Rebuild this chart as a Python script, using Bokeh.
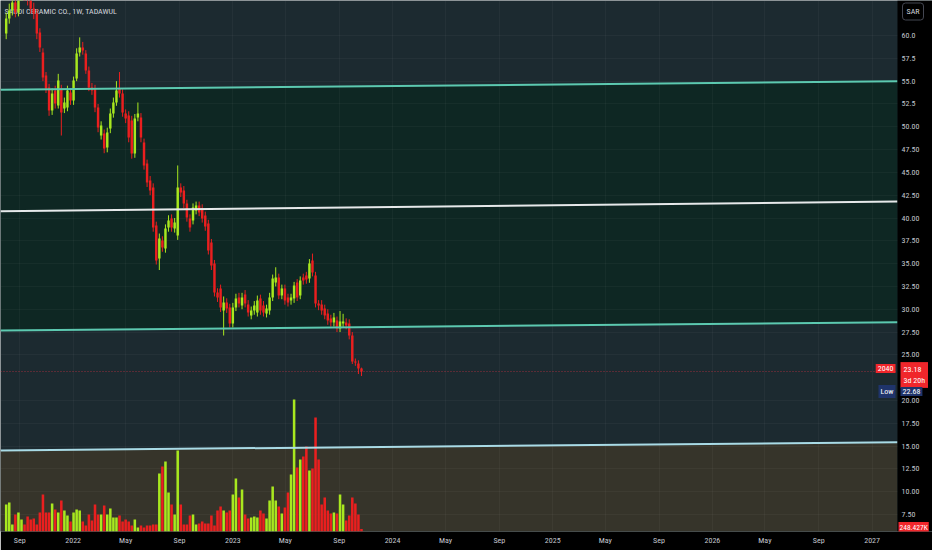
import pandas as pd
from bokeh.plotting import figure
from bokeh.models import ColumnDataSource, Range1d, FixedTicker, Label
from bokeh.embed import file_html
from bokeh.resources import INLINE

# ---------------- data (weekly candles, SAR) ----------------
LAST_WEEK = "2023-10-22"

opens = [60.22, 61.87, 62.74, 63.62, 62.52, 64.72, 65.48, 64.39, 63.84, 62.96,
         62.41, 60.33, 58.14, 55.62, 54.30, 51.78, 53.98, 52.33, 54.20, 52.00,
         52.11, 53.76, 52.88, 55.29, 58.14, 58.69, 58.03, 56.17, 54.30, 54.20,
         52.11, 49.04, 49.26, 47.73, 49.81, 51.45, 52.66, 54.20, 53.65, 51.45,
         51.24, 50.69, 47.07, 51.02, 51.02, 48.28, 45.98, 44.11, 43.34, 39.18,
         35.56, 37.54, 36.66, 38.96, 39.95, 38.85, 38.08, 43.34, 43.02, 41.59,
         39.95, 39.73, 40.82, 41.37, 41.04, 40.28, 39.40, 37.32, 35.02, 31.84,
         32.28, 29.86, 30.74, 30.19, 28.44, 30.19, 31.29, 30.41, 31.62, 30.52,
         29.32, 29.86, 29.64, 31.18, 30.41, 29.53, 29.86, 31.29, 32.93, 33.48,
         31.51, 32.28, 31.29, 30.96, 31.18, 32.93, 31.51, 33.48, 33.70, 33.37,
         35.34, 33.70, 30.63, 30.52, 30.08, 29.53, 28.99, 28.55, 28.77, 27.89,
         28.44, 28.55, 28.44, 27.12, 24.27, 24.05, 23.51]

closes = [61.87, 62.74, 63.62, 62.52, 64.72, 65.48, 64.39, 63.84, 62.96, 62.41,
          60.22, 58.69, 55.40, 54.20, 51.78, 53.65, 52.55, 55.07, 51.56, 52.66,
          53.98, 52.88, 55.07, 58.03, 58.69, 58.36, 56.17, 54.30, 53.98, 52.11,
          49.92, 50.14, 47.62, 49.37, 51.45, 52.66, 53.98, 53.65, 51.56, 50.91,
          48.82, 47.07, 50.91, 51.45, 48.82, 45.76, 43.89, 43.02, 38.96, 35.34,
          37.76, 36.77, 38.85, 39.73, 38.96, 39.51, 43.34, 42.80, 41.59, 40.06,
          38.96, 41.15, 41.37, 40.60, 39.95, 39.07, 36.44, 34.80, 31.84, 31.29,
          30.19, 30.74, 30.08, 28.44, 30.19, 31.18, 30.63, 31.29, 30.63, 29.64,
          29.86, 30.41, 30.96, 29.86, 29.64, 30.08, 31.29, 33.37, 33.48, 31.51,
          32.28, 30.96, 30.74, 31.29, 32.60, 31.29, 33.15, 33.15, 33.26, 35.02,
          34.03, 30.63, 30.41, 29.86, 29.32, 28.77, 28.55, 29.10, 27.89, 28.66,
          28.66, 28.22, 27.12, 24.27, 24.16, 23.51, 23.18]

highs = [62.5, 63.5, 64.5, 64.2, 65.3, 66.2, 66.0, 65.0, 64.5, 63.6,
         62.9, 60.8, 58.6, 56.0, 54.7, 54.2, 54.5, 55.8, 54.6, 53.2,
         54.5, 54.2, 55.5, 58.6, 59.8, 59.3, 58.4, 56.6, 54.8, 54.6,
         52.5, 50.6, 49.7, 49.9, 52.0, 53.2, 55.0, 56.0, 54.1, 51.9,
         51.7, 51.2, 51.4, 52.66, 51.5, 48.7, 46.4, 44.6, 43.8, 39.6,
         38.3, 38.0, 39.3, 40.3, 40.4, 40.0, 45.76, 43.8, 43.5, 42.0,
         40.4, 41.6, 41.8, 41.8, 41.5, 40.7, 39.8, 37.7, 35.4, 32.3,
         32.7, 31.4, 31.2, 30.6, 30.7, 31.7, 31.8, 31.8, 32.1, 31.0,
         30.3, 30.9, 31.5, 31.6, 30.9, 30.5, 31.8, 33.8, 34.6, 33.9,
         32.7, 32.7, 31.7, 31.7, 33.0, 33.3, 33.6, 33.9, 34.1, 35.5,
         36.1, 34.1, 31.0, 31.0, 30.5, 30.0, 29.4, 29.6, 29.2, 29.8,
         29.5, 29.0, 28.9, 27.5, 24.6, 24.4, 23.6]

lows = [59.6, 61.3, 62.2, 62.0, 62.1, 64.2, 63.9, 63.3, 62.4, 61.8,
        59.6, 58.2, 55.0, 53.7, 51.2, 51.3, 52.0, 52.0, 49.04, 51.5,
        51.7, 52.4, 52.4, 55.0, 57.7, 57.9, 55.8, 53.9, 53.5, 51.6,
        49.4, 48.6, 47.1, 47.2, 49.3, 51.0, 52.3, 53.2, 51.1, 50.4,
        48.3, 46.5, 46.6, 50.6, 48.3, 45.3, 43.4, 42.5, 38.5, 34.9,
        34.3, 36.3, 36.2, 38.5, 38.5, 38.4, 37.6, 42.3, 41.1, 39.6,
        38.5, 39.3, 40.4, 40.2, 39.5, 38.6, 36.0, 34.3, 31.4, 30.8,
        29.7, 27.12, 29.6, 28.0, 28.0, 29.8, 30.2, 30.0, 30.2, 29.2,
        28.9, 29.4, 29.2, 29.4, 29.2, 29.1, 29.4, 30.9, 32.5, 31.1,
        31.1, 30.5, 30.3, 30.5, 30.7, 30.9, 31.1, 32.7, 32.8, 32.9,
        33.6, 30.2, 29.9, 29.4, 28.9, 28.3, 28.1, 28.1, 27.5, 27.5,
        28.0, 27.8, 26.7, 24.0, 23.8, 22.9, 22.68]

# weekly volume, thousands of shares
volumes_k = [2700, 2900, 700, 1700, 1900, 1200, 700, 1500, 1200, 1300,
             700, 1900, 3700, 1900, 1900, 2800, 2200, 1900, 3100, 2100,
             1600, 1000, 1900, 2200, 2100, 1000, 600, 1700, 1100, 2700,
             1700, 1700, 2600, 1700, 2300, 1400, 1400, 1600, 1000, 1200,
             1000, 600, 1200, 400, 600, 400, 600, 600, 700, 700,
             5800, 6500, 7000, 3900, 2700, 1700, 8100, 2700, 700, 700,
             1600, 1700, 700, 800, 1000, 800, 800, 1600, 600, 2100,
             2500, 2100, 1900, 2100, 3700, 5300, 3400, 4200, 1700, 1300,
             1400, 1500, 1400, 2100, 1800, 1300, 3100, 4500, 3100, 2500,
             1800, 2400, 3900, 5700, 13200, 6400, 7200, 7500, 8500, 6100,
             6300, 11400, 7200, 2700, 3400, 2100, 1800, 1900, 1800, 3700,
             2700, 1100, 1600, 3400, 2800, 1700, 248.427]

# drawn trend lines (price at left edge, price at right edge)
level_left = [54.05, 40.75, 27.67, 14.52]
level_right = [55.00, 41.80, 28.58, 15.43]
level_colors = ["#5cc9b0", "#e6e9ea", "#5cc9b0", "#a9dbe6"]

# axis ticks
price_ticks = [60, 57.5, 55, 52.5, 50, 47.5, 45, 42.5, 40, 37.5, 35, 32.5,
               30, 27.5, 25, 20, 17.5, 15, 12.5, 10, 7.5]
price_labels = ["60.0", "57.5", "55.0", "52.5", "50.00", "47.50", "45.00",
                "42.50", "40.00", "37.50", "35.00", "32.50", "30.00", "27.50",
                "25.00", "20.00", "17.50", "15.00", "12.50", "10.00", "7.50"]
time_ticks = ["2021-09-01", "2022-01-01", "2022-05-01", "2022-09-01",
              "2023-01-01", "2023-05-01", "2023-09-01", "2024-01-01",
              "2024-05-01", "2024-09-01", "2025-01-01", "2025-05-01",
              "2025-09-01", "2026-01-01", "2026-05-01", "2026-09-01",
              "2027-01-01"]
time_labels = ["Sep", "2022", "May", "Sep", "2023", "May", "Sep", "2024",
               "May", "Sep", "2025", "May", "Sep", "2026", "May", "Sep", "2027"]

LAST_PRICE = 23.18
LOW_PRICE = 22.68

# ---------------- styling ----------------
GREEN = "#a8e81f"
RED = "#ea1f1f"
FONT = "'Liberation Sans Narrow', 'Roboto Condensed', Roboto, sans-serif"

X_START = pd.Timestamp("2021-07-19")
AXIS_X = pd.Timestamp("2027-02-28")   # where the price scale starts
X_END = pd.Timestamp("2027-05-19")
Y_START, Y_END = 5.64, 63.84
DAY_MS = 86400000

dates = pd.date_range(end=LAST_WEEK, periods=len(opens), freq="7D")
colors = [GREEN if c >= o else RED for o, c in zip(opens, closes)]
src = ColumnDataSource(dict(
    date=dates, open=opens, close=closes, high=highs, low=lows,
    top=[max(o, c) for o, c in zip(opens, closes)],
    bottom=[min(o, c) for o, c in zip(opens, closes)],
    color=colors, vol=volumes_k))

p = figure(width=932, height=550, x_axis_type="datetime", y_axis_location="right",
           x_range=Range1d(X_START, X_END), y_range=Range1d(Y_START, Y_END),
           output_backend="svg", toolbar_location=None,
           min_border_left=0, min_border_top=0, min_border_right=0,
           min_border_bottom=19, background_fill_color="#1c2a30",
           border_fill_color="#000000", outline_line_color=None)

# zones
p.patches(xs=[[X_START, AXIS_X, AXIS_X, X_START], [X_START, AXIS_X, AXIS_X, X_START]],
          ys=[[level_left[0], level_right[0], level_right[2], level_left[2]],
              [level_left[3], level_right[3], Y_START, Y_START]],
          fill_color=["#0e2723", "#36342a"], line_color=None, level="underlay")

# volume overlay
p.extra_y_ranges = {"vol": Range1d(0, 53100)}
p.vbar(x="date", width=5.8 * DAY_MS, top="vol", bottom=0, y_range_name="vol",
       fill_color="color", line_color=None, source=src)

# candles
p.segment(x0="date", y0="high", x1="date", y1="low", line_color="color",
          line_width=1, source=src)
p.vbar(x="date", width=5.6 * DAY_MS, top="top", bottom="bottom",
       fill_color="color", line_color=None, source=src)

# trend lines
p.multi_line(xs=[[X_START, AXIS_X]] * len(level_left),
             ys=[[a, b] for a, b in zip(level_left, level_right)],
             line_color=level_colors, line_width=2)

# last price line
p.segment(x0=[X_START], y0=[LAST_PRICE], x1=[AXIS_X], y1=[LAST_PRICE],
          line_color="#f23645", line_alpha=0.6, line_dash="1 2", line_width=1)

# price-scale background
p.quad(left=[AXIS_X], right=[X_END], bottom=[Y_START], top=[Y_END],
       fill_color="#000000", line_color=None)

# axes
ms = [pd.Timestamp(t).value // 10**6 for t in time_ticks]
xa = p.xaxis[0]
xa.ticker = FixedTicker(ticks=ms)
xa.major_label_overrides = {m: lab for m, lab in zip(ms, time_labels)}
ya = p.yaxis[0]
ya.ticker = FixedTicker(ticks=price_ticks)
ya.major_label_overrides = {t: lab for t, lab in zip(price_ticks, price_labels)}
ya.fixed_location = AXIS_X.value // 10**6
for ax in (xa, ya):
    ax.axis_line_color = None
    ax.major_tick_line_color = None
    ax.minor_tick_line_color = None
    ax.major_tick_out = 0
    ax.major_tick_in = 0
    ax.minor_tick_out = 0
    ax.minor_tick_in = 0
    ax.major_label_text_color = "#c3c6ce"
    ax.major_label_text_font = FONT
    ax.major_label_text_font_size = "8px"
xa.major_label_standoff = 4
ya.major_label_standoff = 4

p.xgrid.ticker = FixedTicker(ticks=ms)
for g in (p.xgrid[0], p.ygrid[0]):
    g.grid_line_color = "#ffffff"
    g.grid_line_alpha = 0.035

# texts (screen positions: x from frame left, y measured from the top)
FR = 531  # frame height in px
def lab(x, y_from_top, **kw):
    base = dict(x=x, y=FR - y_from_top, x_units="screen", y_units="screen",
                text_font=FONT, text_font_size="8px", text_baseline="middle",
                text_color="#ffffff")
    base.update(kw)
    p.add_layout(Label(**base))

lab(4, 11, text="SAUDI CERAMIC CO., 1W, TADAWUL", text_color="#d1d4dc", level="underlay")
lab(902, 11, text="SAR", text_color="#d1d4dc", border_line_color="#434651",
    background_fill_color="#000000", padding=4, border_radius=3)
lab(900, 374.5, text=f"{LAST_PRICE:.2f}\n3d 20h", background_fill_color="#f0262b", padding=3)
lab(895, 368, text="2040", text_align="right", background_fill_color="#f0262b", padding=2)
lab(895, 391, text="Low", text_align="right", background_fill_color="#1f346b", padding=2)
lab(900, 391, text=f"{LOW_PRICE:.2f}", background_fill_color="#1f346b", padding=2)
lab(898, 527, text="248.427K", text_font_size="7.5px",
    background_fill_color="#f0262b", padding=1)

open("out.html", "w").write(file_html(p, INLINE))
